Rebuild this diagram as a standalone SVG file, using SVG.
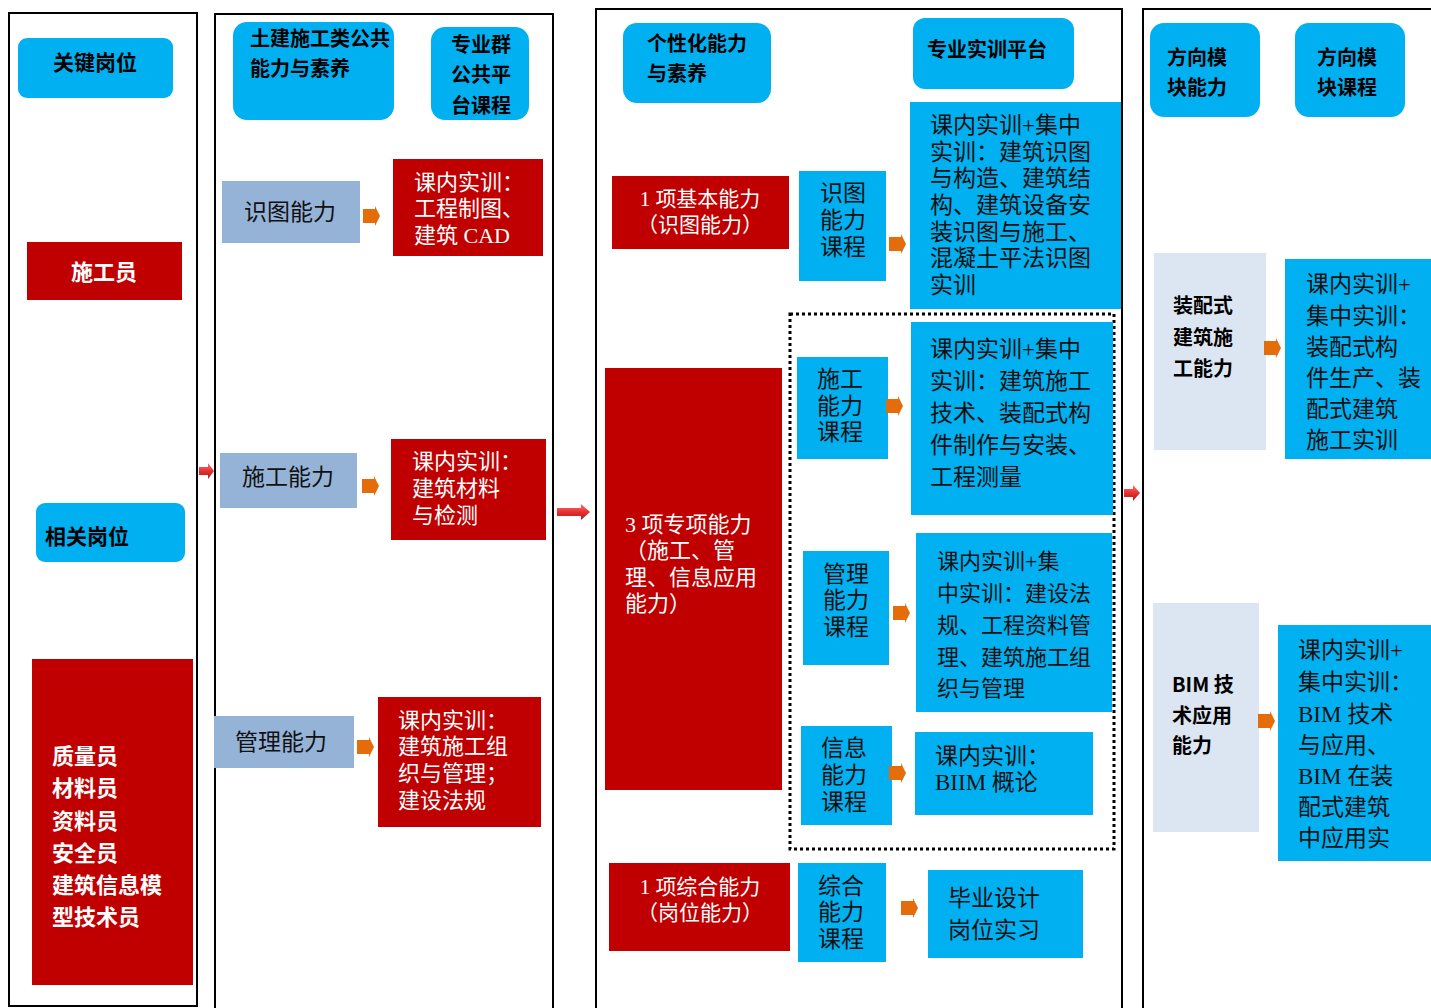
<svg xmlns="http://www.w3.org/2000/svg" width="1431" height="1008" viewBox="0 0 1431 1008">
<defs>
<linearGradient id="rg" x1="0" y1="0" x2="0" y2="1">
<stop offset="0" stop-color="#FF7070"/>
<stop offset="0.5" stop-color="#E83030"/>
<stop offset="1" stop-color="#B01818"/>
</linearGradient>
<polygon id="oa" points="0,-7 12,-7 12,-10 17,0 12,10 12,7 0,7" fill="#E46C0A"/>
</defs>
<style>
.frame{fill:none;stroke:#000;stroke-width:2}
.hdbox{fill:#00B0F0}
.blue{fill:#00B0F0}
.red{fill:#C00000}
.steel{fill:#95B3D7}
.pale{fill:#DCE6F2}
.hd{font-family:"Noto Sans CJK SC",sans-serif;font-weight:700;font-size:20px;fill:#000}
.hdw{font-family:"Noto Sans CJK SC",sans-serif;font-weight:700;font-size:22px;fill:#fff}
.sr{font-family:"Liberation Serif","Noto Sans CJK SC",serif;font-size:23px;fill:#111}
.srw{font-family:"Liberation Serif","Noto Sans CJK SC",serif;font-size:22px;fill:#fff}
.mid{text-anchor:middle}
.dotted{fill:none;stroke:#000;stroke-width:3;stroke-dasharray:3 3}
</style>
<rect width="1431" height="1008" fill="#fff"/>
<g id="frames">
<rect class="frame" x="9" y="13" width="188" height="993"/>
<rect class="frame" x="215" y="14" width="338" height="1000"/>
<rect class="frame" x="596" y="9" width="526" height="1005"/>
<rect class="frame" x="1143" y="9" width="300" height="1005"/>
<rect class="dotted" x="790" y="314" width="324" height="535"/>
</g>
<g id="n-guanjian">
<rect class="hdbox" x="18" y="38" width="155" height="60" rx="9"/>
<text class="hd mid" x="95" y="70" style="font-size:21px">关键岗位</text>
</g>
<g id="n-shigongyuan">
<rect class="red" x="27" y="242" width="155" height="58"/>
<text class="hdw mid" x="104" y="280">施工员</text>
</g>
<g id="n-xiangguan">
<rect class="hdbox" x="36" y="503" width="149" height="59" rx="9"/>
<text class="hd" x="45" y="544" style="font-size:21px">相关岗位</text>
</g>
<g id="n-gangwei">
<rect class="red" x="32" y="659" width="161" height="326"/>
<text class="hdw" x="52" y="764">质量员</text>
<text class="hdw" x="52" y="796">材料员</text>
<text class="hdw" x="52" y="829">资料员</text>
<text class="hdw" x="52" y="861">安全员</text>
<text class="hdw" x="52" y="893">建筑信息模</text>
<text class="hdw" x="52" y="925">型技术员</text>
</g>
<g id="n-tujian">
<rect class="hdbox" x="233" y="22" width="161" height="98" rx="14"/>
<text class="hd" x="250" y="46">土建施工类公共</text>
<text class="hd" x="250" y="76">能力与素养</text>
</g>
<g id="n-zhuanyequn">
<rect class="hdbox" x="431" y="27" width="98" height="93" rx="14"/>
<text class="hd mid" x="481" y="52">专业群</text>
<text class="hd mid" x="481" y="82">公共平</text>
<text class="hd mid" x="481" y="113">台课程</text>
</g>
<g id="n-shitu">
<rect class="steel" x="222" y="181" width="138" height="62"/>
<text class="sr mid" x="290" y="220" fill="#222">识图能力</text>
</g>
<g id="n-shitu-kc">
<rect class="red" x="393" y="159" width="150" height="97"/>
<text class="srw" x="414" y="190">课内实训：</text>
<text class="srw" x="414" y="216">工程制图、</text>
<text class="srw" x="414" y="243">建筑 CAD</text>
</g>
<g id="n-shigong">
<rect class="steel" x="220" y="453" width="137" height="55"/>
<text class="sr mid" x="288" y="485">施工能力</text>
</g>
<g id="n-shigong-kc">
<rect class="red" x="391" y="439" width="155" height="101"/>
<text class="srw" x="412" y="469">课内实训：</text>
<text class="srw" x="412" y="496">建筑材料</text>
<text class="srw" x="412" y="523">与检测</text>
</g>
<g id="n-guanli">
<rect class="steel" x="214" y="716" width="140" height="52"/>
<text class="sr mid" x="281" y="750">管理能力</text>
</g>
<g id="n-guanli-kc">
<rect class="red" x="378" y="697" width="163" height="130"/>
<text class="srw" x="398" y="728">课内实训：</text>
<text class="srw" x="398" y="754">建筑施工组</text>
<text class="srw" x="398" y="781">织与管理；</text>
<text class="srw" x="398" y="808">建设法规</text>
</g>
<g id="n-gexinghua">
<rect class="hdbox" x="623" y="23" width="148" height="80" rx="14"/>
<text class="hd" x="647" y="51">个性化能力</text>
<text class="hd" x="647" y="81">与素养</text>
</g>
<g id="n-shixun-pt">
<rect class="hdbox" x="913" y="18" width="161" height="71" rx="12"/>
<text class="hd" x="927" y="57">专业实训平台</text>
</g>
<g id="n-jiben">
<rect class="red" x="612" y="176" width="177" height="73"/>
<text class="srw mid" x="700" y="206" style="font-size:21px">1 项基本能力</text>
<text class="srw mid" x="700" y="232" style="font-size:21px">（识图能力）</text>
</g>
<g id="n-shitu-course">
<rect class="blue" x="799" y="171" width="87" height="110"/>
<text class="sr" x="820" y="201">识图</text>
<text class="sr" x="820" y="228">能力</text>
<text class="sr" x="820" y="255">课程</text>
</g>
<g id="n-shitu-shixun">
<rect class="blue" x="910" y="102" width="211" height="207"/>
<text class="sr" x="930" y="133">课内实训+集中</text>
<text class="sr" x="930" y="160">实训：建筑识图</text>
<text class="sr" x="930" y="186">与构造、建筑结</text>
<text class="sr" x="930" y="213">构、建筑设备安</text>
<text class="sr" x="930" y="240">装识图与施工、</text>
<text class="sr" x="930" y="266">混凝土平法识图</text>
<text class="sr" x="930" y="293">实训</text>
</g>
<g id="n-zhuanxiang">
<rect class="red" x="605" y="368" width="177" height="422"/>
<text class="srw" x="625" y="532">3 项专项能力</text>
<text class="srw" x="625" y="558">（施工、管</text>
<text class="srw" x="625" y="585">理、信息应用</text>
<text class="srw" x="625" y="611">能力）</text>
</g>
<g id="n-shigong-course">
<rect class="blue" x="797" y="357" width="91" height="102"/>
<text class="sr" x="817" y="387">施工</text>
<text class="sr" x="817" y="414">能力</text>
<text class="sr" x="817" y="440">课程</text>
</g>
<g id="n-shigong-shixun">
<rect class="blue" x="911" y="322" width="202" height="193"/>
<text class="sr" x="930" y="357">课内实训+集中</text>
<text class="sr" x="930" y="389">实训：建筑施工</text>
<text class="sr" x="930" y="421">技术、装配式构</text>
<text class="sr" x="930" y="453">件制作与安装、</text>
<text class="sr" x="930" y="485">工程测量</text>
</g>
<g id="n-guanli-course">
<rect class="blue" x="803" y="551" width="86" height="114"/>
<text class="sr" x="823" y="582">管理</text>
<text class="sr" x="823" y="608">能力</text>
<text class="sr" x="823" y="635">课程</text>
</g>
<g id="n-guanli-shixun">
<rect class="blue" x="916" y="533" width="196" height="179"/>
<text class="sr" x="937" y="569" style="font-size:22px">课内实训+集</text>
<text class="sr" x="937" y="601" style="font-size:22px">中实训：建设法</text>
<text class="sr" x="937" y="633" style="font-size:22px">规、工程资料管</text>
<text class="sr" x="937" y="665" style="font-size:22px">理、建筑施工组</text>
<text class="sr" x="937" y="696" style="font-size:22px">织与管理</text>
</g>
<g id="n-xinxi-course">
<rect class="blue" x="801" y="726" width="91" height="99"/>
<text class="sr" x="821" y="756">信息</text>
<text class="sr" x="821" y="783">能力</text>
<text class="sr" x="821" y="810">课程</text>
</g>
<g id="n-xinxi-shixun">
<rect class="blue" x="915" y="732" width="178" height="83"/>
<text class="sr" x="935" y="764">课内实训：</text>
<text class="sr" x="935" y="790">BIIM 概论</text>
</g>
<g id="n-zonghe">
<rect class="red" x="609" y="863" width="181" height="88"/>
<text class="srw mid" x="700" y="894" style="font-size:21px">1 项综合能力</text>
<text class="srw mid" x="700" y="920" style="font-size:21px">（岗位能力）</text>
</g>
<g id="n-zonghe-course">
<rect class="blue" x="798" y="863" width="88" height="99"/>
<text class="sr" x="818" y="894">综合</text>
<text class="sr" x="818" y="920">能力</text>
<text class="sr" x="818" y="947">课程</text>
</g>
<g id="n-biye">
<rect class="blue" x="928" y="870" width="155" height="88"/>
<text class="sr" x="948" y="906">毕业设计</text>
<text class="sr" x="948" y="938">岗位实习</text>
</g>
<g id="n-fx-nengli">
<rect class="hdbox" x="1150" y="23" width="110" height="94" rx="14"/>
<text class="hd" x="1167" y="65">方向模</text>
<text class="hd" x="1167" y="95">块能力</text>
</g>
<g id="n-fx-kecheng">
<rect class="hdbox" x="1295" y="23" width="110" height="94" rx="14"/>
<text class="hd" x="1317" y="65">方向模</text>
<text class="hd" x="1317" y="95">块课程</text>
</g>
<g id="n-zhuangpei">
<rect class="pale" x="1154" y="253" width="112" height="197"/>
<text class="hd" x="1173" y="313">装配式</text>
<text class="hd" x="1173" y="345">建筑施</text>
<text class="hd" x="1173" y="376">工能力</text>
</g>
<g id="n-zhuangpei-kc">
<rect class="blue" x="1285" y="259" width="146" height="200"/>
<text class="sr" x="1306" y="292">课内实训+</text>
<text class="sr" x="1306" y="324">集中实训：</text>
<text class="sr" x="1306" y="355">装配式构</text>
<text class="sr" x="1306" y="386">件生产、装</text>
<text class="sr" x="1306" y="417">配式建筑</text>
<text class="sr" x="1306" y="448">施工实训</text>
</g>
<g id="n-bim">
<rect class="pale" x="1153" y="603" width="106" height="229"/>
<text class="hd" x="1172" y="692">BIM 技</text>
<text class="hd" x="1172" y="723">术应用</text>
<text class="hd" x="1172" y="753">能力</text>
</g>
<g id="n-bim-kc">
<rect class="blue" x="1278" y="625" width="153" height="236"/>
<text class="sr" x="1298" y="658">课内实训+</text>
<text class="sr" x="1298" y="690">集中实训：</text>
<text class="sr" x="1298" y="722">BIM 技术</text>
<text class="sr" x="1298" y="753">与应用、</text>
<text class="sr" x="1298" y="784">BIM 在装</text>
<text class="sr" x="1298" y="815">配式建筑</text>
<text class="sr" x="1298" y="846">中应用实</text>
</g>
<g id="connectors">
<use href="#oa" x="363" y="216"/>
<use href="#oa" x="362" y="486"/>
<use href="#oa" x="357" y="747"/>
<use href="#oa" x="889" y="244"/>
<use href="#oa" x="886" y="406"/>
<use href="#oa" x="893" y="613"/>
<use href="#oa" x="889" y="773"/>
<use href="#oa" x="901" y="908"/>
<use href="#oa" x="1264" y="348"/>
<use href="#oa" x="1258" y="721"/>
<polygon points="199,467 208,467 208,463 214,471 208,479 208,475 199,475" fill="url(#rg)"/>
<polygon points="557,508 581,508 581,504 590,512 581,520 581,516 557,516" fill="url(#rg)"/>
<polygon points="1124,489 1133,489 1133,485 1140,493 1133,501 1133,497 1124,497" fill="url(#rg)"/>
</g>
</svg>
